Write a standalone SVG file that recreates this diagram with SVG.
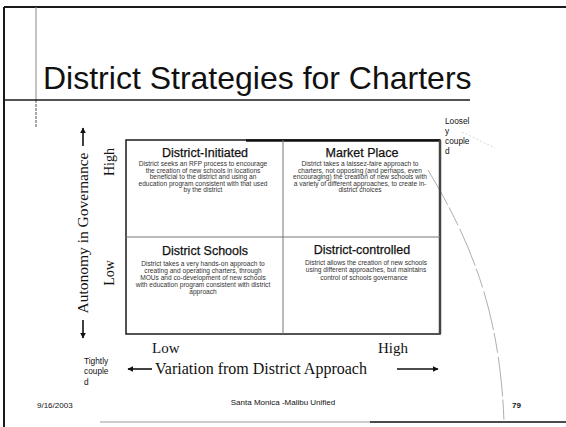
<svg xmlns="http://www.w3.org/2000/svg" width="566" height="427" viewBox="0 0 566 427">
<style>
.sans{font-family:"Liberation Sans",Arial,sans-serif;fill:#111}
.serif{font-family:"Liberation Serif","Times New Roman",serif;fill:#111}
.qt{font-size:12.5px;text-anchor:middle;stroke:#111;stroke-width:0.25}
.qb{font-size:6.6px;text-anchor:middle;fill:#333}
.small{font-size:8.3px}
.frame{stroke:#1a1a1a;fill:none}
.ax{stroke:#111;stroke-width:1.6;fill:none}
</style>
<defs>
<marker id="ah" viewBox="0 0 10 10" refX="9" refY="5" markerWidth="6" markerHeight="6" markerUnits="userSpaceOnUse" orient="auto">
<path d="M0,0 L10,5 L0,10 z" fill="#111"/>
</marker>
</defs>
<rect width="566" height="427" fill="#fff"/>
<g id="slide-frame">
<line class="frame" x1="4" y1="7" x2="4" y2="427" stroke-width="2"/>
<line class="frame" x1="4" y1="7" x2="566" y2="7" stroke-width="2"/>
<line x1="36" y1="7" x2="36" y2="100" stroke="#888" stroke-width="1"/>
<line x1="36" y1="100" x2="36" y2="128" stroke="#555" stroke-width="1" stroke-dasharray="3,1"/>
<line class="frame" x1="4" y1="100" x2="470" y2="100" stroke-width="1.5"/>
<line x1="100" y1="422" x2="370" y2="422" stroke="#999" stroke-width="1.2"/>
<line x1="370" y1="422" x2="566" y2="422" stroke="#111" stroke-width="1.6"/>
<path d="M428 170 C 470 240, 500 310, 504 422" fill="none" stroke="#999" stroke-width="0.8" stroke-dasharray="40,3,20,4"/>
<line x1="462" y1="132" x2="495" y2="148" stroke="#ccc" stroke-width="0.8" stroke-dasharray="2,2"/>
</g>
<g id="title">
<text class="sans" x="43" y="89" font-size="32">District Strategies for Charters</text>
</g>
<g id="matrix">
<rect x="126" y="140" width="314" height="194" fill="none" stroke="#1a1a1a" stroke-width="1.5"/>
<line x1="246" y1="140.5" x2="440" y2="140.5" stroke="#111" stroke-width="2.5"/>
<line x1="440" y1="140" x2="440" y2="334" stroke="#444" stroke-width="2.5"/>
<line x1="283" y1="140" x2="283" y2="334" stroke="#777" stroke-width="1"/>
<line x1="126" y1="237" x2="440" y2="237" stroke="#777" stroke-width="1"/>
</g>
<g id="district-initiated">
<text class="sans qt" x="205" y="156.5">District-Initiated</text>
<text class="sans qb" x="203" y="166">District seeks an RFP process to encourage</text>
<text class="sans qb" x="203" y="172.5">the creation of new schools in locations</text>
<text class="sans qb" x="203" y="179">beneficial to the district and using an</text>
<text class="sans qb" x="203" y="185.5">education program consistent with that used</text>
<text class="sans qb" x="203" y="192">by the district</text>
</g>
<g id="market-place">
<text class="sans qt" x="362" y="157">Market Place</text>
<text class="sans qb" x="360" y="166">District takes a laissez-faire approach to</text>
<text class="sans qb" x="360" y="172.5">charters, not opposing (and perhaps, even</text>
<text class="sans qb" x="360" y="179">encouraging) the creation of new schools with</text>
<text class="sans qb" x="360" y="185.5">a variety of different approaches, to create in-</text>
<text class="sans qb" x="360" y="192">district choices</text>
</g>
<g id="district-schools">
<text class="sans qt" x="205" y="255">District Schools</text>
<text class="sans qb" x="203" y="265.5">District takes a very hands-on approach to</text>
<text class="sans qb" x="203" y="272.5">creating and operating charters, through</text>
<text class="sans qb" x="203" y="279.5">MOUs and co-development of new schools</text>
<text class="sans qb" x="203" y="286.5">with education program consistent with district</text>
<text class="sans qb" x="203" y="293.5">approach</text>
</g>
<g id="district-controlled">
<text class="sans qt" x="362" y="254">District-controlled</text>
<text class="sans qb" x="366" y="264.5">District allows the creation of new schools</text>
<text class="sans qb" x="366" y="272">using different approaches, but maintains</text>
<text class="sans qb" x="364" y="279.5">control of schools governance</text>
</g>
<g id="connectors">
<line class="ax" x1="83" y1="146" x2="83" y2="128" marker-end="url(#ah)"/>
<line class="ax" x1="83" y1="320" x2="83" y2="338" marker-end="url(#ah)"/>
<line class="ax" x1="152" y1="369" x2="128" y2="369" marker-end="url(#ah)"/>
<line class="ax" x1="397" y1="369" x2="438" y2="369" marker-end="url(#ah)"/>
</g>
<g id="y-axis">
<text class="serif" font-size="15.5" text-anchor="middle" transform="translate(88,233) rotate(-90)">Autonomy in Governance</text>
<text class="serif" font-size="14" text-anchor="middle" transform="translate(114,162) rotate(-90)">High</text>
<text class="serif" font-size="14" text-anchor="middle" transform="translate(114,273) rotate(-90)">Low</text>
</g>
<g id="x-axis">
<text class="serif" font-size="15" x="152" y="353">Low</text>
<text class="serif" font-size="15" x="378" y="353">High</text>
<text class="serif" font-size="16" x="155" y="374">Variation from District Approach</text>
</g>
<g id="loosely-coupled">
<text class="sans small" x="445" y="124">Loosel</text>
<text class="sans small" x="445" y="134">y</text>
<text class="sans small" x="445" y="144">couple</text>
<text class="sans small" x="445" y="154">d</text>
</g>
<g id="tightly-coupled">
<text class="sans small" x="84" y="364">Tightly</text>
<text class="sans small" x="84" y="374">couple</text>
<text class="sans small" x="84" y="385">d</text>
</g>
<g id="footer">
<text class="sans" font-size="8" x="37" y="408">9/16/2003</text>
<text class="sans" font-size="8" x="283" y="405" text-anchor="middle">Santa Monica -Malibu Unified</text>
<text class="sans" font-size="8" font-weight="bold" x="512" y="408">79</text>
</g>
</svg>
